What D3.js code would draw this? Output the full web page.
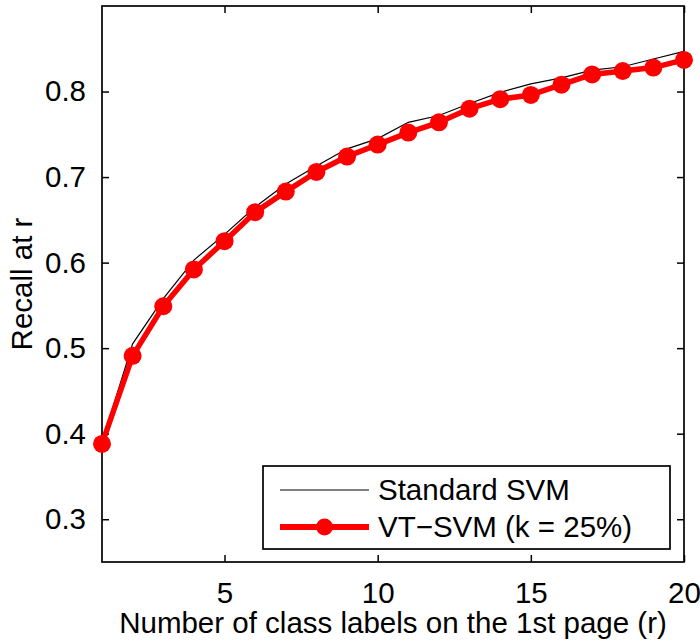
<!DOCTYPE html>
<html>
<head>
<meta charset="utf-8">
<script src="https://cdn.jsdelivr.net/npm/d3@7"></script>
<style>
  body { margin: 0; background: #fff; }
  svg { display: block; font-family: "Liberation Sans", Arial, Helvetica, sans-serif; }
</style>
</head>
<body>
<svg id="chart"></svg>
<script>
// number of class labels shown, r = 1..20
var ranks = d3.range(1, 21);
var standardSvm = [0.390, 0.505, 0.558, 0.603, 0.633, 0.665, 0.692, 0.713, 0.733, 0.745,
                   0.764, 0.772, 0.786, 0.799, 0.809, 0.816, 0.825, 0.829, 0.838, 0.847];
var vtSvm = [0.388, 0.491, 0.549, 0.592, 0.625, 0.659, 0.683, 0.706, 0.724, 0.738,
             0.752, 0.764, 0.780, 0.791, 0.796, 0.808, 0.820, 0.824, 0.828, 0.837];
var xTicks = [5, 10, 15, 20];
var yTicks = [0.3, 0.4, 0.5, 0.6, 0.7, 0.8];
var legendLabels = ["Standard SVM", "VT\u2212SVM (k = 25%)"];

var width = 700,
  height = 642,
  plotLeft = 102,
  plotRight = 684,
  plotTop = 6,
  plotBottom = 562,
  fontSize = 29.5;

var svg = d3.select("#chart")
  .attr("width", width)
  .attr("height", height);

var x = d3.scaleLinear().domain([1, 20]).range([plotLeft, plotRight]);
var y = d3.scaleLinear().domain([0.25, 0.9]).range([plotBottom, plotTop]);

// ticks point inward on all four sides (matlab style)
var tickLen = 7;
svg.append("g")
  .attr("transform", "translate(0," + plotBottom + ")")
  .call(d3.axisBottom(x).tickValues(xTicks).tickSize(-tickLen).tickPadding(tickLen + 13).tickFormat(d3.format("d")))
  .call(g => g.select(".domain").remove());
svg.append("g")
  .attr("transform", "translate(0," + plotTop + ")")
  .call(d3.axisTop(x).tickValues(xTicks).tickSize(-tickLen).tickFormat(""))
  .call(g => g.select(".domain").remove());
svg.append("g")
  .attr("transform", "translate(" + plotLeft + ",0)")
  .call(d3.axisLeft(y).tickValues(yTicks).tickSize(-tickLen).tickPadding(tickLen + 9).tickFormat(d3.format(".1f")))
  .call(g => g.select(".domain").remove());
svg.append("g")
  .attr("transform", "translate(" + plotRight + ",0)")
  .call(d3.axisRight(y).tickValues(yTicks).tickSize(-tickLen).tickFormat(""))
  .call(g => g.select(".domain").remove());

svg.selectAll(".tick line").attr("stroke", "#000").attr("stroke-width", 1.5);
svg.selectAll(".tick text")
  .attr("fill", "#000")
  .style("font-size", fontSize + "px")
  .style("font-family", "'Liberation Sans', Arial, sans-serif");

// frame
svg.append("rect")
  .attr("x", plotLeft)
  .attr("y", plotTop)
  .attr("width", plotRight - plotLeft)
  .attr("height", plotBottom - plotTop)
  .attr("fill", "none")
  .attr("stroke", "#000")
  .attr("stroke-width", 1.7);

var line = d3.line()
  .x((d, i) => x(ranks[i]))
  .y(d => y(d));

svg.append("path")
  .datum(standardSvm)
  .attr("d", line)
  .attr("fill", "none")
  .attr("stroke", "#000")
  .attr("stroke-width", 1.2);

svg.append("path")
  .datum(vtSvm)
  .attr("d", line)
  .attr("fill", "none")
  .attr("stroke", "#ff0000")
  .attr("stroke-width", 5.5)
  .attr("stroke-linejoin", "round");

svg.selectAll(".dot")
  .data(vtSvm)
  .enter().append("circle")
  .attr("class", "dot")
  .attr("cx", (d, i) => x(ranks[i]))
  .attr("cy", d => y(d))
  .attr("r", 9)
  .attr("fill", "#ff0000");

// axis labels
svg.append("text")
  .attr("x", (plotLeft + plotRight) / 2)
  .attr("y", 633)
  .attr("text-anchor", "middle")
  .style("font-size", fontSize + "px")
  .text("Number of class labels on the 1st page (r)");

svg.append("text")
  .attr("transform", "translate(32," + (plotTop + plotBottom) / 2 + ") rotate(-90)")
  .attr("text-anchor", "middle")
  .style("font-size", fontSize + "px")
  .text("Recall at r");

// legend
var lg = svg.append("g");
lg.append("rect")
  .attr("x", 263)
  .attr("y", 466)
  .attr("width", 407)
  .attr("height", 83)
  .attr("fill", "#fff")
  .attr("stroke", "#000")
  .attr("stroke-width", 1.7);

lg.append("line")
  .attr("x1", 280).attr("x2", 369)
  .attr("y1", 490).attr("y2", 490)
  .attr("stroke", "#000")
  .attr("stroke-width", 1.2);
lg.append("line")
  .attr("x1", 280).attr("x2", 369)
  .attr("y1", 527).attr("y2", 527)
  .attr("stroke", "#ff0000")
  .attr("stroke-width", 6);
lg.append("circle")
  .attr("cx", 324.5)
  .attr("cy", 527)
  .attr("r", 8.5)
  .attr("fill", "#ff0000");

lg.selectAll(".legtext")
  .data(legendLabels)
  .enter().append("text")
  .attr("class", "legtext")
  .attr("x", 378)
  .attr("y", (d, i) => 500 + i * 37)
  .style("font-size", fontSize + "px")
  .text(d => d);
</script>
</body>
</html>
